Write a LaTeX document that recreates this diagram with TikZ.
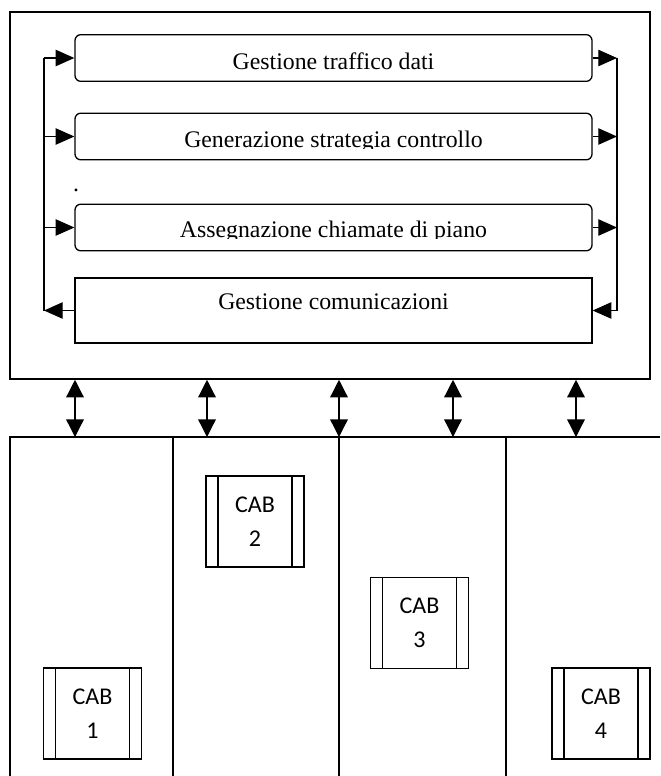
\documentclass[tikz,border=0pt]{standalone}
\usepackage{fontspec}
\setmainfont{Liberation Serif}
\newfontfamily\cabfont{Carlito}
\usetikzlibrary{arrows.meta, positioning, calc}

\begin{document}
\begin{tikzpicture}[x=0.03cm, y=-0.03cm, line width=1.1pt,
    every node/.style={font=\fontsize{20.3}{24}\selectfont, inner sep=0pt},
    task/.style={draw, rounded corners=5pt, minimum width=15.51cm, minimum height=1.4cm},
    flow/.style={-{Triangle[length=16pt, width=14pt]}},
    link/.style={{Triangle[length=15pt, width=15pt]}-{Triangle[length=15pt, width=15pt]}},
    cab/.style={draw, minimum width=2.94cm, minimum height=2.73cm, align=center,
        font=\cabfont\fontsize{20.5}{29}\selectfont,
        path picture={
            \draw ([xshift=0.36cm]path picture bounding box.north west) -- ([xshift=0.36cm]path picture bounding box.south west);
            \draw ([xshift=-0.36cm]path picture bounding box.north east) -- ([xshift=-0.36cm]path picture bounding box.south east);
        }}]
    \useasboundingbox (0,0) rectangle (660,776);

    \node[draw, line width=1.3pt, minimum width=19.2cm, minimum height=11.01cm] (ctrl) at (330,195.5) {};

    \node[task] (b1) at (333.5,58) {};
    \node[task] (b2) at (333.5,136.5) {};
    \node[task] (b3) at (333.5,227.5) {};
    \node[draw, minimum width=15.51cm, minimum height=1.95cm] (b4) at (333.5,310.5) {};

    \node[anchor=base] (t1) at (333.5,69) {Gestione traffico dati};
    \begin{scope}
        \clip (b2.north west) rectangle (592,148);
        \node[anchor=base] (t2) at (333.5,147) {Generazione strategia controllo};
    \end{scope}
    \begin{scope}
        \clip (b3.north west) rectangle (592,238);
        \node[anchor=base] (t3) at (333.5,237) {Assegnazione chiamate di piano};
    \end{scope}
    \node[anchor=base] (t4) at (333.5,309) {Gestione comunicazioni};
    \node[anchor=base] (dot) at (76,191) {.};

    \draw (44,0 |- b1.west) -- (44,0 |- b4.west);
    \draw (617,0 |- b1.east) -- (617,0 |- b4.east);
    \foreach \b in {b1,b2,b3} {
        \draw[flow] (44,0 |- \b.west) -- (\b.west);
        \draw[flow] (\b.east) -- (617,0 |- \b.east);
    }
    \draw[flow] (b4.west) -- (44,0 |- b4.west);
    \draw[flow] (617,0 |- b4.east) -- (b4.east);

    \coordinate (floor) at (10,437);
    \draw (10,776) -- (floor) -- (660,437);
    \foreach \x in {173,339,506}
        \draw (\x,437) -- (\x,776);
    \foreach \x in {75,207,339,453,576}
        \draw[link] (\x,0 |- ctrl.south) -- (\x,0 |- floor);

    \node[cab] (cab1) at (92.5,713.5) {CAB\\1};
    \node[cab] (cab2) at (255,521.5) {CAB\\2};
    \node[cab] (cab3) at (419.5,623) {CAB\\3};
    \node[cab] (cab4) at (601,713.5) {CAB\\4};
\end{tikzpicture}
\end{document}
